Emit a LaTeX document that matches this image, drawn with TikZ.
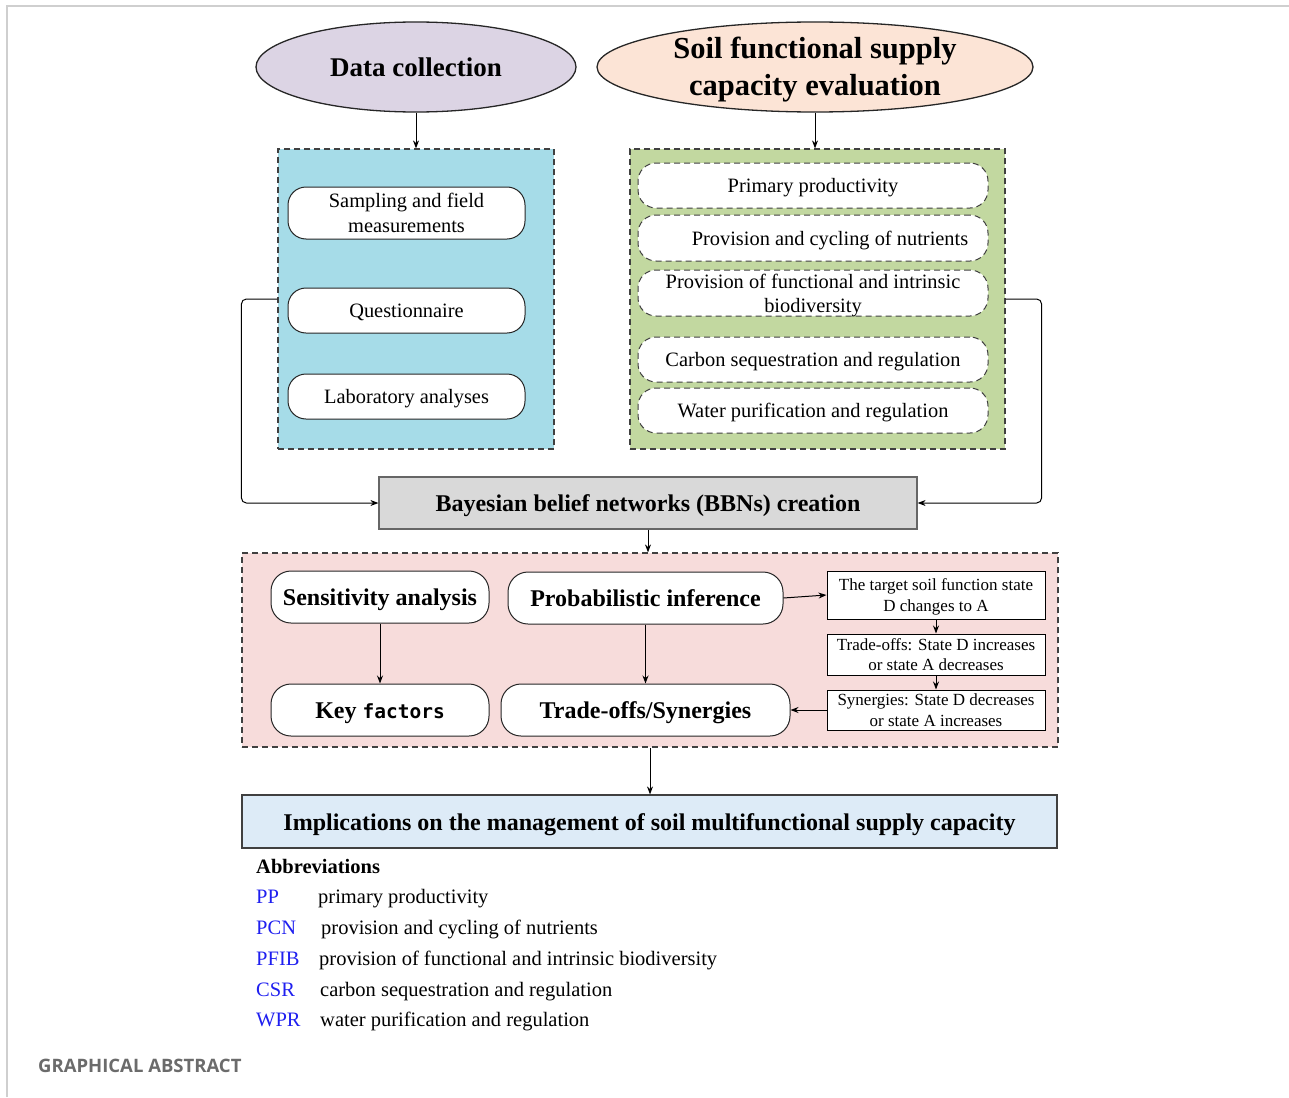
\documentclass[tikz,border=0pt]{standalone}
\usepackage{fontspec}
\setmainfont{Liberation Serif}
\newfontfamily\monofam{DejaVu Sans Mono}
\newfontfamily\gafont{Open Sans}
\usetikzlibrary{shapes.geometric,arrows.meta}
\definecolor{lav}{HTML}{DCD4E4}
\definecolor{peach}{HTML}{FCE4D6}
\definecolor{skyb}{HTML}{A6DCE8}
\definecolor{leaf}{HTML}{C2D8A0}
\definecolor{greyb}{HTML}{D9D9D9}
\definecolor{rose}{HTML}{F7DCDB}
\definecolor{palebl}{HTML}{DDEBF7}
\definecolor{abblue}{HTML}{1F1FF0}
\definecolor{frame}{HTML}{CFCFCF}
\begin{document}
\begin{tikzpicture}[x=1pt,y=-1pt,
  st/.style={execute at begin node={\rule[-0.22em]{0pt}{1.15em}}},
  conn/.style={draw=black, line width=1pt, -{Stealth[length=8pt,width=6pt]}},
  link/.style={draw=black, line width=1pt, rounded corners=5pt, -{Stealth[length=8pt,width=6pt]}},
  ell/.style={ellipse, draw=black!85, line width=1.3pt, inner sep=0pt, align=center},
  dbox/.style={draw=black!75, dash pattern=on 6pt off 4pt, line width=1.2pt, inner sep=0pt},
  rbox/.style={draw=black!85, fill=white, line width=1pt, rounded corners=18pt, inner sep=0pt, align=center},
  drbox/.style={rbox, dash pattern=on 6pt off 4pt, draw=black!75},
  bbox/.style={rbox, st, rounded corners=20pt, minimum height=52pt, font=\fontsize{24}{28}\selectfont\bfseries},
  sbox/.style={draw=black, fill=white, line width=1pt, inner sep=0pt, minimum width=218pt, align=center, font=\fontsize{17}{20.5}\selectfont},
  reg/.style={font=\fontsize{20.4}{24.5}\selectfont},
  abk/.style={anchor=base west, inner sep=0pt, text=abblue, font=\fontsize{20.5}{24}\selectfont},
  abd/.style={anchor=base west, inner sep=0pt, font=\fontsize{20.5}{24}\selectfont}]
\useasboundingbox[fill=white] (0,0) rectangle (1289,1097);
\draw[frame, line width=1.3pt] (7,1097) -- (7,6) -- (1289,6);

% top ellipses
\node[ell, st, fill=lav, minimum width=320pt, minimum height=90pt, font=\fontsize{27}{32}\selectfont\bfseries] (dc) at (416,67) {Data collection};
\node[ell, fill=peach, minimum width=436pt, minimum height=90pt,
  label={[align=center, inner sep=0pt, yshift=-3pt, font=\fontsize{30.5}{37}\selectfont\bfseries]center:Soil functional supply\\capacity evaluation}] (sfs) at (815,67) {};

% containers
\node[dbox, fill=skyb, minimum width=276pt, minimum height=300pt] (blue) at (416,299) {};
\node[dbox, fill=leaf, minimum width=375pt, minimum height=300pt] (green) at (817.5,299) {};

% blue contents
\node[rbox, reg, minimum width=237pt, minimum height=52pt] (samp) at (406.5,213) {Sampling and field\\measurements};
\node[rbox, reg, st, minimum width=237pt, minimum height=45pt] (quest) at (406.5,310.5) {Questionnaire};
\node[rbox, reg, st, minimum width=237pt, minimum height=45pt] (lab) at (406.5,396.5) {Laboratory analyses};

% green contents
\node[drbox, reg, st, minimum width=350pt, minimum height=45pt] (pp) at (813,185.5) {Primary productivity};
\node[drbox, reg, st, minimum width=350pt, minimum height=46pt] (pcn) at (813,238) {\hspace*{34pt}Provision and cycling of nutrients};
\node[drbox, reg, minimum width=350pt, minimum height=46pt,
  label={[align=center, inner sep=0pt, yshift=-3pt, font=\fontsize{20.4}{24}\selectfont]center:Provision of functional and intrinsic\\biodiversity}] (pfib) at (813,293) {};
\node[drbox, reg, st, minimum width=350pt, minimum height=45pt] (csr) at (813,359.5) {Carbon sequestration and regulation};
\node[drbox, reg, st, minimum width=350pt, minimum height=45pt] (wpr) at (813,410.5) {Water purification and regulation};

% BBN
\node[st, draw=black!60, fill=greyb, line width=1.2pt, minimum width=538pt, minimum height=52pt, inner sep=0pt, font=\fontsize{24}{28}\selectfont\bfseries] (bbn) at (648,503) {Bayesian belief networks (BBNs) creation};

% pink container
\node[dbox, fill=rose, minimum width=816pt, minimum height=194pt] (pink) at (650,650) {};
\node[bbox, minimum width=218pt] (sens) at (380,597) {Sensitivity analysis};
\node[bbox, minimum width=275pt] (prob) at (645.5,598) {Probabilistic inference};
\node[bbox, minimum width=218pt] (key) at (380,710) {Key {\monofam\fontsize{19.5}{24}\selectfont factors}};
\node[bbox, minimum width=289pt] (trade) at (645.5,710) {Trade-offs/Synergies};
\node[sbox, minimum height=48pt, label={[align=center, inner sep=0pt, yshift=-2pt, font=\fontsize{17}{20.5}\selectfont]center:The target soil function state\\D changes to A}] (r1) at (936,595) {};
\node[sbox, minimum height=41pt] (r2) at (936,654.5) {Trade-offs: State D increases\\or state A decreases};
\node[sbox, minimum height=40pt] (r3) at (936,710) {Synergies: State D decreases\\or state A increases};

% implications
\node[st, draw=black!75, fill=palebl, line width=1.2pt, minimum width=815pt, minimum height=53pt, inner sep=0pt, font=\fontsize{24}{28}\selectfont\bfseries] (impl) at (649.5,821.5) {Implications on the management of soil multifunctional supply capacity};

% connectors
\draw[conn] (dc.south) -- (blue.north);
\draw[conn] (sfs.south) -- (sfs.south |- green.north);
\draw[link] (blue.west) -- ++(-36,0) |- (bbn.west);
\draw[link] (green.east) -- ++(36,0) |- (bbn.east);
\draw[conn] (bbn.south) -- (bbn.south |- pink.north);
\draw[conn] (sens.south) -- (key.north);
\draw[conn] (prob.south) -- (trade.north);
\draw[conn] (prob.east) -- (r1.west);
\draw[conn] (r1.south) -- (r2.north);
\draw[conn] (r2.south) -- (r3.north);
\draw[conn] (r3.west) -- (trade.east);
\draw[conn] (pink.south) -- (pink.south |- impl.north);

% abbreviations
\node[abd, font=\fontsize{20.5}{24}\selectfont\bfseries] (abh) at (256,873) {Abbreviations};
\node[abk] (k1) at (256,903) {PP};
\node[abd] (d1) at (318,903) {primary productivity};
\node[abk] (k2) at (256,934) {PCN};
\node[abd] (d2) at (321,934) {provision and cycling of nutrients};
\node[abk] (k3) at (256,965) {PFIB};
\node[abd] (d3) at (319,965) {provision of functional and intrinsic biodiversity};
\node[abk] (k4) at (256,996) {CSR};
\node[abd] (d4) at (320,996) {carbon sequestration and regulation};
\node[abk] (k5) at (256,1026) {WPR};
\node[abd] (d5) at (320,1026) {water purification and regulation};

\node[anchor=base west, inner sep=0pt, text=black!58, font=\gafont\fontsize{18.5}{22}\selectfont\bfseries] (ga) at (38,1072) {GRAPHICAL ABSTRACT};
\end{tikzpicture}
\end{document}
